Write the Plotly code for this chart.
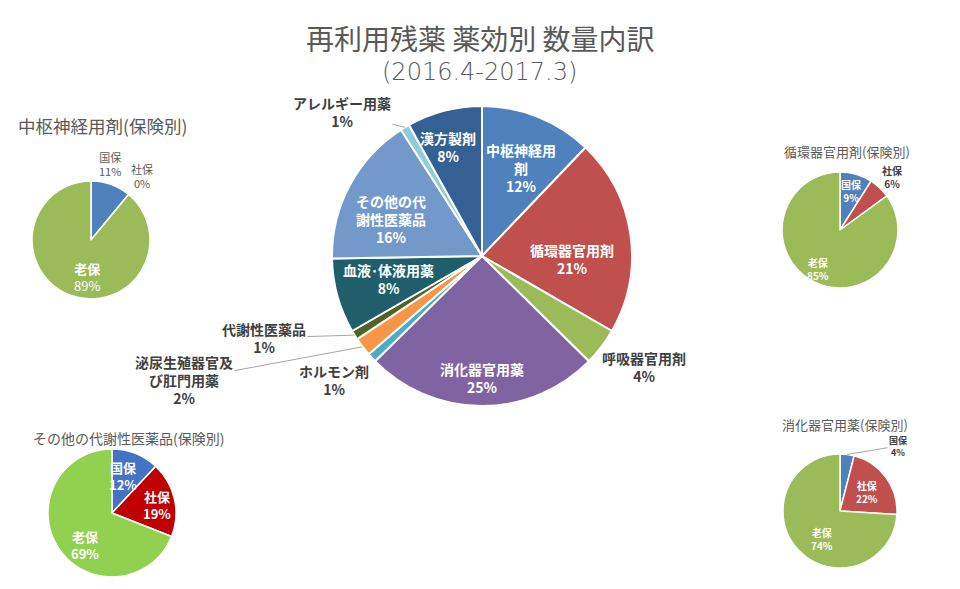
import math
import plotly.graph_objects as go

W, H = 960, 589
FONT = "Noto Sans CJK JP"

# ---------------- data ----------------
main_labels = ["中枢神経用剤", "循環器官用剤", "呼吸器官用剤", "消化器官用薬", "ホルモン剤",
               "泌尿生殖器官及び肛門用薬", "代謝性医薬品", "血液・体液用薬",
               "その他の代謝性医薬品", "アレルギー用薬", "漢方製剤"]
main_values = [12, 21, 4, 25, 1, 2, 1, 8, 16, 1, 8]

ins_labels = ["国保", "社保", "老保"]
cns_values = [11, 0, 89]        # 中枢神経用剤(保険別)
circ_values = [9, 6, 85]        # 循環器官用剤(保険別)
meta_values = [12, 19, 69]      # その他の代謝性医薬品(保険別)
dig_values = [4, 22, 74]        # 消化器官用薬(保険別)

# ---------------- styles ----------------
main_colors = ["#4F81BD", "#C0504D", "#9BBB59", "#8064A2", "#4BACC6", "#F79646",
               "#4F6228", "#215E6C", "#7399CB", "#8FCBDD", "#356094"]
std_colors = ["#4F81BD", "#C0504D", "#9BBB59"]
alt_colors = ["#4472C4", "#C00000", "#92D050"]


def px(x, y):
    return x / W, 1 - y / H


def domain(cx, cy, r):
    return dict(x=[(cx - r) / W, (cx + r) / W], y=[1 - (cy + r) / H, 1 - (cy - r) / H])


def slice_edge(values, idx, cx, cy, r, frac=1.0):
    tot = sum(values)
    mid = (sum(values[:idx]) + values[idx] / 2) / tot * 2 * math.pi
    return cx + frac * r * math.sin(mid), cy - frac * r * math.cos(mid)


fig = go.Figure()

# pies: (values, colors, cx, cy, r)
MAIN = (main_values, main_colors, 482, 256, 150)
P1 = (cns_values, std_colors, 91, 240, 59)
P2 = (circ_values, std_colors, 840, 230, 58)
P3 = (meta_values, alt_colors, 112, 513, 64)
P4 = (dig_values, std_colors, 840, 511, 57)

fig.add_trace(go.Pie(labels=main_labels, values=main_values, sort=False, direction="clockwise",
                     rotation=0, marker=dict(colors=main_colors, line=dict(color="white", width=2)),
                     textinfo="none", hoverinfo="label+percent", domain=domain(*MAIN[2:]),
                     showlegend=False))
for vals, cols, cx, cy, r in (P1, P2, P3, P4):
    fig.add_trace(go.Pie(labels=ins_labels, values=vals, sort=False, direction="clockwise",
                         rotation=0, marker=dict(colors=cols, line=dict(color="white", width=1.5)),
                         textinfo="none", hoverinfo="label+percent", domain=domain(cx, cy, r),
                         showlegend=False))

ann = []


def text(x, y, s, size, color="#404040", bold=False, family=FONT, weight=None):
    xx, yy = px(x, y)
    f = dict(family=family, size=size, color=color)
    if weight:
        f["weight"] = weight
    ann.append(dict(x=xx, y=yy, xref="paper", yref="paper", text=f"<b>{s}</b>" if bold else s,
                    showarrow=False, align="center", xanchor="center", yanchor="middle", font=f))


def lead(pie, idx, x, y, s, size, color="#404040"):
    vals, _, cx, cy, r = pie
    tx, ty = slice_edge(vals, idx, cx, cy, r)
    xx, yy = px(tx, ty)
    ann.append(dict(x=xx, y=yy, xref="paper", yref="paper", text=f"<b>{s}</b>",
                    showarrow=True, arrowhead=0, arrowwidth=1, arrowcolor="#A6A6A6",
                    ax=x - tx, ay=y - ty, align="center", standoff=0,
                    font=dict(family=FONT, size=size, color=color)))


# titles
text(480, 38, "再利用残薬 薬効別 数量内訳", 28, "#595959")
text(479, 72, "(2016.4-2017.3)", 24, "#595959", family="DejaVu Sans", weight=200)
text(102, 125, "中枢神経用剤(保険別)", 17.5, "#595959")
text(847, 151, "循環器官用剤(保険別)", 13, "#595959")
text(128, 438, "その他の代謝性医薬品(保険別)", 14, "#595959")
text(845, 424, "消化器官用薬(保険別)", 13, "#595959")

# main pie labels
pct = [f"{v}%" for v in main_values]
text(521, 168, f"中枢神経用<br>剤<br>{pct[0]}", 14, "white", True)
text(572, 259, f"循環器官用剤<br>{pct[1]}", 14, "white", True)
text(644, 367, f"呼吸器官用剤<br>{pct[2]}", 14, "#404040", True)
text(482, 378, f"消化器官用薬<br>{pct[3]}", 14, "white", True)
text(334, 380, f"ホルモン剤<br>{pct[4]}", 14, "#404040", True)
lead(MAIN, 5, 184, 380, f"泌尿生殖器官及<br>び肛門用薬<br>{pct[5]}", 14)
lead(MAIN, 6, 264, 338, f"代謝性医薬品<br>{pct[6]}", 14)
text(388, 279, f"血液･体液用薬<br>{pct[7]}", 14, "white", True)
text(391, 219, f"その他の代<br>謝性医薬品<br>{pct[8]}", 14, "white", True)
lead(MAIN, 9, 342, 112, f"アレルギー用薬<br>{pct[9]}", 14)
text(448, 147, f"漢方製剤<br>{pct[10]}", 14, "white", True)

# small pie labels
text(110, 164, f"国保<br>{cns_values[0]}%", 11, "#595959")
text(142, 176, f"社保<br>{cns_values[1]}%", 11, "#595959")
text(87, 277, f"<b>老保</b><br>{cns_values[2]}%", 13, "white")

text(851, 191, f"国保<br>{circ_values[0]}%", 10, "white", True)
text(892, 177, f"社保<br>{circ_values[1]}%", 10, "#404040", True)
text(818, 269, f"老保<br>{circ_values[2]}%", 10, "white", True)

text(123, 476, f"国保<br>{meta_values[0]}%", 13, "white", True)
text(157, 505, f"社保<br>{meta_values[1]}%", 13, "white", True)
text(85, 545, f"老保<br>{meta_values[2]}%", 13, "white", True)

lead(P4, 0, 898, 446, f"国保<br>{dig_values[0]}%", 9)
text(867, 492, f"社保<br>{dig_values[1]}%", 10, "white", True)
text(822, 539, f"老保<br>{dig_values[2]}%", 10, "white", True)

fig.update_layout(width=W, height=H, margin=dict(l=0, r=0, t=0, b=0),
                  paper_bgcolor="white", plot_bgcolor="white", annotations=ann,
                  font=dict(family=FONT))
fig.write_html("out.html")
